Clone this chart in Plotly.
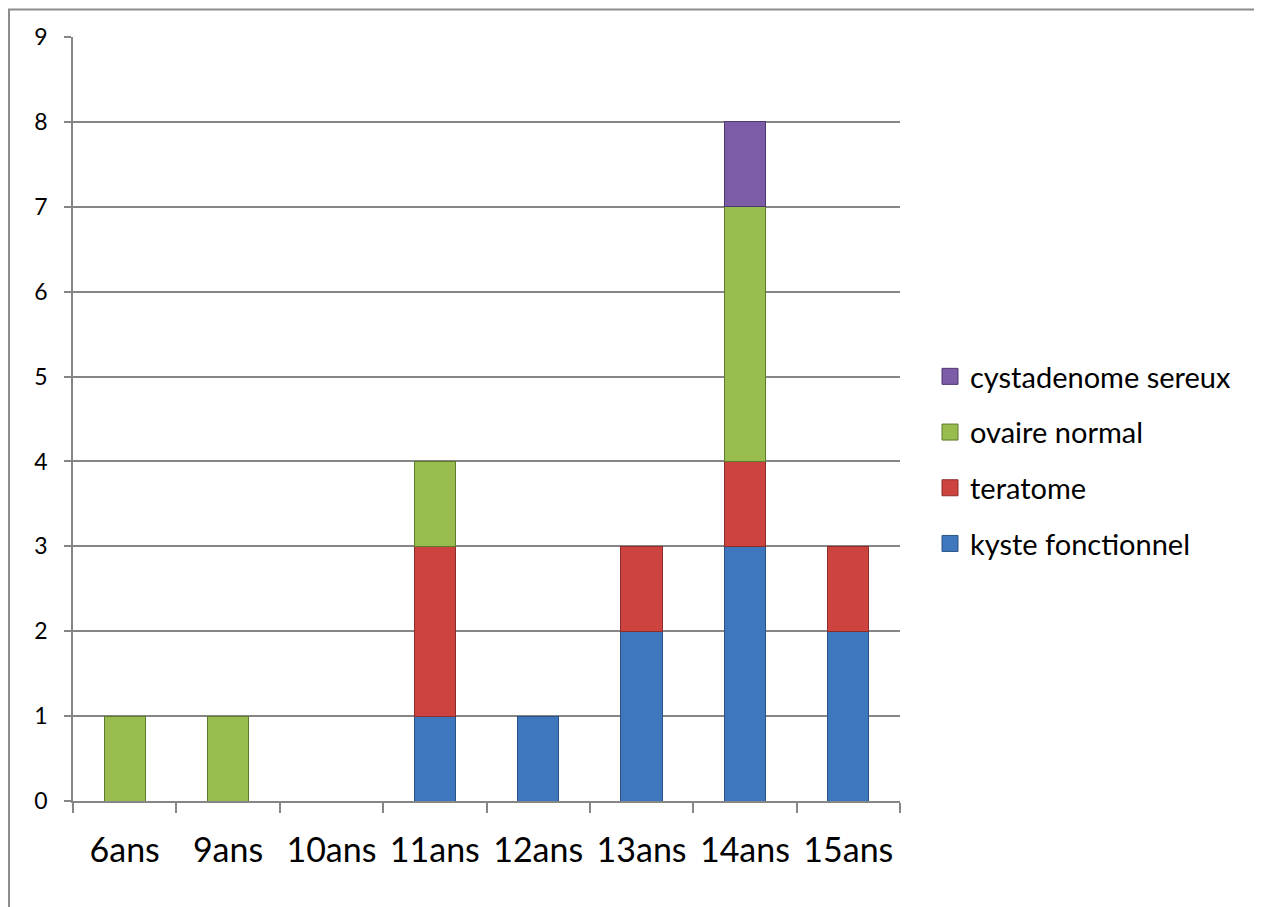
import plotly.graph_objects as go

categories = ["6ans", "9ans", "10ans", "11ans", "12ans", "13ans", "14ans", "15ans"]
kyste_fonctionnel = [0, 0, 0, 1, 1, 2, 3, 2]
teratome = [0, 0, 0, 2, 0, 1, 1, 1]
ovaire_normal = [1, 1, 0, 1, 0, 0, 3, 0]
cystadenome_sereux = [0, 0, 0, 0, 0, 0, 1, 0]
y_ticks = [0, 1, 2, 3, 4, 5, 6, 7, 8, 9]

series = [
    ("kyste fonctionnel", kyste_fonctionnel, "#3F77BF", "#2A5285", 4),
    ("teratome", teratome, "#CD4340", "#8E2C2A", 3),
    ("ovaire normal", ovaire_normal, "#98BC4E", "#5E7A2C", 2),
    ("cystadenome sereux", cystadenome_sereux, "#7C5CA6", "#4E3670", 1),
]

fig = go.Figure()
for i, (name, vals, col, edge, rank) in enumerate(series):
    fig.add_trace(go.Bar(
        x=categories, y=[v if v else None for v in vals], name=name,
        marker=dict(color=col, line=dict(color=edge, width=1)),
        legendgroup=f"g{i}", showlegend=False,
    ))
    # legend entry with a larger square swatch
    fig.add_trace(go.Scatter(
        x=[None], y=[None], mode="markers", name=name,
        marker=dict(symbol="square", size=16, color=col,
                    line=dict(color=edge, width=1)),
        legendgroup=f"g{i}", legendrank=rank, showlegend=True,
    ))

OFF = 8  # page body margin
W, H = 1254, 899
PL, PR, PT, PB = 73, 900, 37, 801  # plot area in page pixels
L = PL - OFF
T = PT - OFF
R = W - (PR - OFF)
B = H - (PB - OFF)
pw = W - L - R
ph = H - T - B

def px(x):
    return (x - OFF - L) / pw

def py(y):
    return (H - B - (y - OFF)) / ph

fig.update_layout(
    width=W, height=H,
    margin=dict(l=L, r=R, t=T, b=B),
    barmode="stack",
    bargap=0.6,
    plot_bgcolor="white",
    paper_bgcolor="white",
    font=dict(family="Lato", color="black"),
    showlegend=True,
    legend=dict(
        x=px(930), y=py(351), xanchor="left", yanchor="top",
        traceorder="grouped", tracegroupgap=15,
        font=dict(size=29, family="Lato"),
        itemwidth=30,
    ),
    shapes=[dict(
        type="rect", xref="paper", yref="paper",
        x0=px(9), x1=px(1290), y0=py(9.5), y1=py(930),
        line=dict(color="#8C8C8C", width=2), fillcolor="rgba(0,0,0,0)",
        layer="below",
    )],
)

fig.update_xaxes(
    type="category",
    tickson="boundaries",
    ticks="outside", ticklen=10, tickcolor="#868686", tickwidth=1.5,
    showline=True, linecolor="#868686", linewidth=1.5,
    showgrid=False,
    tickfont=dict(size=34, family="Lato"),
    ticklabelstandoff=18,
)
fig.update_yaxes(
    range=[0, 9],
    tickvals=y_ticks,
    ticks="outside", ticklen=7, tickcolor="#868686", tickwidth=1.5,
    showline=True, linecolor="#868686", linewidth=1.5,
    showgrid=True, gridcolor="#868686", gridwidth=1.5,
    zeroline=False,
    tickfont=dict(size=23, family="Lato"),
    ticklabelstandoff=12,
)

fig.write_html("out.html")
